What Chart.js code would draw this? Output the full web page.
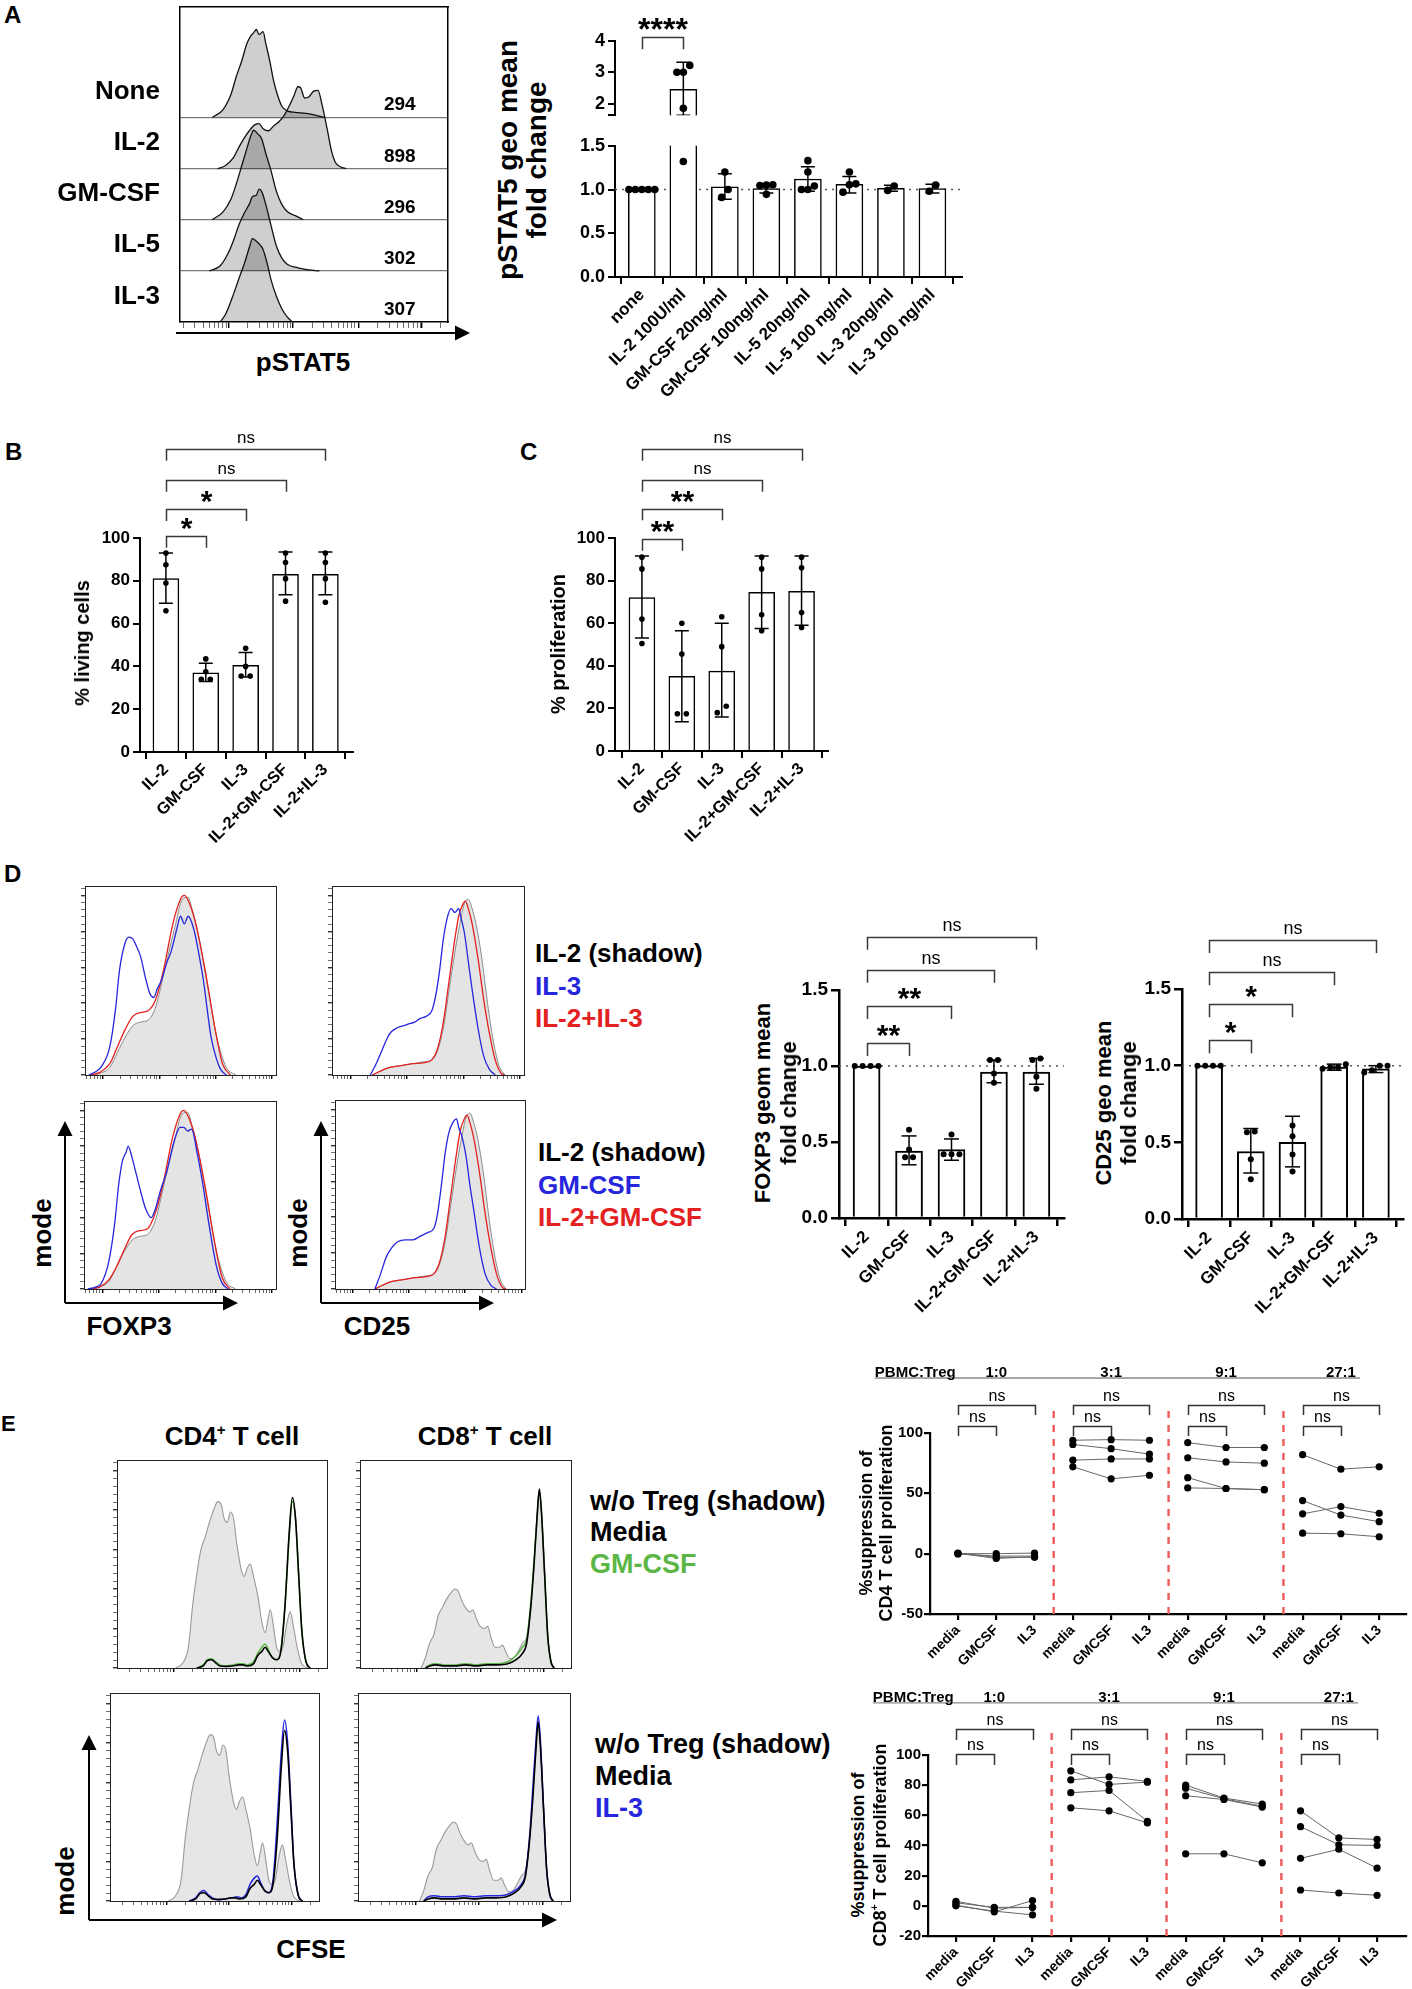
<!DOCTYPE html>
<html>
<head>
<meta charset="utf-8">
<title>pSTAT5 / Treg figure</title>
<script src="https://cdn.jsdelivr.net/npm/chart.js@4.4.1/dist/chart.umd.min.js"></script>
<style>
  body { margin: 0; background: #fff; }
  #fig { position: relative; width: 1412px; height: 1989px; overflow: hidden; background: #fff;
         font-family: "Liberation Sans", Arial, Helvetica, sans-serif; }
  #fig canvas { position: absolute; }
  .t { position: absolute; white-space: nowrap; line-height: 1; }
  .t sup { font-size: 58%; vertical-align: top; position: relative; top: -0.05em; }
  #fig svg { position: absolute; left: 0; top: 0; }
</style>
</head>
<body>
<div id="fig"></div>
<script>
const FONT = '"Liberation Sans", Arial, Helvetica, sans-serif';
Chart.defaults.font.family = FONT;
Chart.defaults.color = '#000';

// ---------- A left: pSTAT5 histograms  [x % of axis, height in row units] ----------
const aRows = ['IL-3', 'IL-5', 'GM-CSF', 'IL-2', 'None'];   // bottom -> top
const aMfi = [307, 302, 296, 898, 294];
const histNone = [[12,0],[16,0.15],[19,0.45],[21,0.8],[23,1.1],[25,1.45],[26.5,1.6],[27.5,1.66],[28.5,1.72],[29.5,1.62],[31,1.68],[32,1.45],[33.5,1.1],[35,0.7],[36.5,0.42],[38,0.22],[40,0.13],[43,0.1],[47,0.08],[50,0.05],[54,0]];
const histIl2 = [[14,0],[17,0.06],[20,0.22],[22,0.42],[24,0.6],[26,0.75],[28,0.86],[29.5,0.88],[31,0.78],[33,0.74],[35,0.84],[37,0.92],[39,1.05],[41,1.25],[42.5,1.42],[44,1.6],[45,1.58],[46.5,1.38],[48,1.4],[50,1.52],[51.5,1.53],[53,1.25],[55,0.75],[56.5,0.35],[58,0.12],[60,0.03],[62,0]];
const histGm = [[12,0],[16,0.15],[19,0.4],[21,0.7],[23,1.05],[25,1.4],[26.5,1.65],[27.5,1.75],[29,1.68],[30.5,1.58],[32,1.3],[34,0.95],[36,0.55],[38,0.3],[40,0.16],[43,0.08],[46,0]];
const histIl5 = [[11,0],[15,0.1],[18,0.35],[20,0.6],[22,0.9],[24,1.13],[26,1.32],[27,1.45],[28.5,1.48],[29.5,1.6],[30.5,1.55],[32,1.3],[34,0.88],[36,0.48],[38,0.25],[40,0.13],[44,0.06],[48,0.02],[52,0]];
const histIl3 = [[15,0],[17,0.15],[20,0.55],[22,0.85],[24,1.14],[26,1.48],[27,1.63],[28.5,1.58],[30,1.5],[31,1.42],[32.5,1.15],[34,0.82],[36,0.5],[38,0.26],[40,0.1],[42,0]];
const aHists = [histIl3, histIl5, histGm, histIl2, histNone];

// ---------- A right: pSTAT5 geo mean fold change ----------
const aCats = ['none', 'IL-2 100U/ml', 'GM-CSF 20ng/ml', 'GM-CSF 100ng/ml', 'IL-5 20ng/ml', 'IL-5 100 ng/ml', 'IL-3 20ng/ml', 'IL-3 100 ng/ml'];
const aMean = [1.0, 2.46, 1.03, 1.01, 1.12, 1.06, 1.015, 1.01];
const aSdLo = [1.0, 1.63, 0.89, 0.96, 0.98, 0.96, 0.98, 0.96];
const aSdHi = [1.0, 3.32, 1.18, 1.06, 1.26, 1.15, 1.05, 1.06];
const aDots = [[1, 1, 1, 1, 1], [3.22, 3.0, 3.0, 1.85, 1.32], [1.2, 1.0, 0.91], [1.055, 1.05, 1.045, 0.945],
               [1.33, 1.2, 1.04, 1.0, 1.0], [1.2, 1.065, 1.055, 0.97], [0.99, 1.04], [1.05, 0.98]];

// ---------- B / C ----------
const bcCats = ['IL-2', 'GM-CSF', 'IL-3', 'IL-2+GM-CSF', 'IL-2+IL-3'];
const bMean = [81, 37, 40.5, 83, 83];
const bSdLo = [69.5, 33, 35, 73.5, 73.5];
const bSdHi = [93, 41.5, 46.5, 93.5, 93.5];
const bDots = [[93, 87.5, 79, 66], [43.5, 37.5, 34, 34], [48.5, 40, 35.5, 35.5], [93, 88.5, 81, 70.5], [93, 88.5, 81, 70]];
const cMean = [72, 35, 37.5, 74.5, 75];
const cSdLo = [53, 13.7, 16, 57.5, 59];
const cSdHi = [91.5, 56.5, 60, 91.5, 91.5];
const cDots = [[91, 85.5, 62, 50.5], [60, 45.5, 17.5, 17.5], [63, 49, 21, 18], [91, 85.5, 64, 56.5], [91, 86, 65, 58]];

// ---------- D: histograms [x % of axis, % of mode] ----------
const foxShadow = [[3,0],[8,1],[13,4],[17,12],[21,20],[25,26],[29,28],[33,29],[37,36],[42,57],[47,78],[51,93],[54,94],[56,88],[59,76],[64,48],[69,20],[74,4],[79,0]];
const foxIl3 = [[2,0],[6,2],[9,5],[13,15],[16,35],[18,55],[21,70],[23,73],[25,72],[27,68],[29,63],[32,50],[34,43],[36,41],[38,46],[40,50],[43,60],[45,65],[48,77],[50,84],[52,80],[54,84],[57,77],[60,62],[62,50],[66,20],[69,8],[71,3],[74,0]];
const foxIl2Il3 = [[3,0],[8,1.5],[13,6],[17,15],[21,24],[25,31],[29,33],[33,34],[37,40],[41,55],[46,80],[50,93],[52,95],[55,90],[58,80],[63,55],[68,25],[72,6],[76,0]];
const foxGm = [[2,0],[6,1],[9,3],[13,15],[16,35],[18,55],[20,68],[22,73],[23,76],[25,70],[27,62],[30,50],[32,43],[35,38],[37,42],[40,53],[43,62],[46,75],[48,82],[50,86],[52,86],[54,84],[56,85],[59,72],[62,55],[65,35],[69,12],[72,3],[75,0]];
const foxIl2Gm = [[3,0],[8,1],[13,5],[17,12],[21,21],[25,29],[29,31],[33,32],[37,40],[41,55],[46,80],[50,93],[52,95],[55,90],[58,80],[63,55],[68,25],[72,6],[76,0]];
const cd25Shadow = [[21,0],[25,2],[30,4],[36,5],[42,6],[48,7],[52,8],[55,13],[58,25],[61,45],[64,65],[67,82],[69,91],[71,93],[73,88],[75,80],[78,62],[81,38],[84,18],[87,5],[90,0]];
const cd25Mix = [[21,0],[25,2],[30,4],[36,5],[42,6],[48,6.5],[52,8],[55,14],[58,28],[61,50],[64,72],[66,84],[68,90],[69.5,92],[71,88],[73,80],[76,62],[79,40],[82,22],[85,8],[88,1],[90,0]];
const cd25Il3 = [[20,0],[23,6],[26,13],[29,20],[31,23],[34,25],[37,26],[40,27],[43,28],[46,30],[49,31],[52,34],[54,42],[56,55],[58,72],[60,83],[62,88],[64,86],[66,88],[67,84],[69,75],[71,60],[73,45],[76,25],[79,10],[82,3],[85,0]];
const cd25Gm = [[21,0],[24,8],[27,17],[30,22],[33,25],[37,26],[41,26],[45,28],[49,30],[52,32],[54,40],[56,55],[58,72],[60,83],[62,88],[64,90],[65,86],[67,80],[69,70],[71,55],[73,42],[76,22],[79,8],[82,2],[85,0]];

// ---------- D: FOXP3 / CD25 fold change ----------
const foxMean = [1.0, 0.44, 0.45, 0.96, 0.96];
const foxSdLo = [1.0, 0.35, 0.38, 0.89, 0.88];
const foxSdHi = [1.0, 0.54, 0.52, 1.04, 1.05];
const foxDots = [[1, 1, 1, 1], [0.58, 0.45, 0.4, 0.4], [0.55, 0.42, 0.42, 0.42], [1.04, 1.04, 0.95, 0.89], [1.05, 1.04, 0.93, 0.85]];
const cd25Mean = [1.0, 0.44, 0.5, 0.99, 0.98];
const cd25SdLo = [1.0, 0.30, 0.34, 0.97, 0.955];
const cd25SdHi = [1.0, 0.59, 0.67, 1.01, 1.0];
const cd25Dots = [[1, 1, 1, 1], [0.565, 0.57, 0.39, 0.26], [0.61, 0.54, 0.42, 0.31], [1.01, 0.99, 0.99, 0.98], [1.0, 1.0, 0.97, 0.955]];

// ---------- E: CFSE histograms ----------
const cd4Shadow = [[28,0],[31,2],[34,10],[36,30],[38,45],[40,57],[42,63],[44,70],[46,76],[48,80],[49.5,79],[51,72],[52.5,70],[54,75],[55.5,72],[57,60],[59,48],[60.5,44],[62,48],[63.5,50],[65,44],[67,35],[69,22],[70.5,17],[72,24],[73,28],[74.5,20],[76,10],[77.5,8],[79,10],[81,22],[82.5,27],[84,20],[86,9],[88,2],[91,0]];
const cd4Media = [[38,0],[41,1],[43,3.5],[45,4],[47,2.5],[49,1],[52,0.8],[55,1],[58,1.5],[60,1.5],[62,1],[65,2],[67,6],[69,8],[70.5,10],[72,8],[74,5],[76,4],[78,8],[80,30],[82,65],[83.5,82],[85,72],[86.5,45],[88,18],[90,3],[92,0]];
const cd4Gm = [[38,0],[41,1.5],[43,4],[45,4.5],[47,3],[49,1.5],[52,1],[55,1.5],[58,2],[60,2],[62,1.5],[65,3],[67,7],[69,10],[70.5,11.5],[72,9],[74,5],[76,4],[78,8],[80,30],[82,63],[83.5,80],[85,72],[86.5,45],[88,18],[90,3],[92,0]];
const cd4Il3 = [[38,0],[41,1.5],[43,4],[45,5],[47,3],[49,1.5],[52,0.5],[55,1],[58,1.5],[61,2],[63,1.5],[65,3],[67,8],[69,11],[70.5,12],[72,9],[74,5],[76,4],[78,10],[80,38],[82,72],[83.5,87],[85,76],[86.5,48],[88,18],[90,3],[92,0]];
const cd8Shadow = [[29,0],[31,5],[33,12],[35,16],[37,25],[39,29],[41,33],[43,36],[45,38],[46.5,37],[48,33],[50,29],[52,27],[53.5,28],[55,24],[57,20],[59,19],[60.5,20],[62,15],[64,10],[66,10],[67.5,11],[69,8],[71,4.5],[73,5],[75,8],[77,12],[79,15],[81,30],[82.5,50],[84,74],[85,85],[86,75],[87.5,45],[89,15],[90.5,3],[92,0]];
const cd8Media = [[31,0],[33,1],[36,1.5],[40,1],[45,1],[50,1.5],[55,1],[60,1.5],[65,1.5],[70,2],[74,4],[77,7],[79,12],[81,30],[82.5,50],[84,74],[85,86],[86,75],[87.5,45],[89,15],[90.5,3],[92,0]];
const cd8Gm = [[31,0],[33,1.5],[36,2],[40,1.5],[45,1.5],[50,2],[55,1.5],[60,2],[65,2],[70,3],[74,6],[77,10],[79,14],[81,32],[82.5,52],[84,74],[85,85],[86,75],[87.5,45],[89,15],[90.5,3],[92,0]];
const cd8Il3 = [[31,0],[33,2],[36,2.5],[40,2],[45,2],[50,2.5],[55,2],[60,2.5],[65,2.5],[70,3],[74,5],[77,8],[79,13],[81,32],[82.5,55],[84,78],[85,89],[86,78],[87.5,45],[89,15],[90.5,3],[92,0]];

// ---------- E: % suppression, [group][donor] ----------
const eGroups = ['1:0', '3:1', '9:1', '27:1'];
const eCats = ['media', 'GMCSF', 'IL3'];
const cd4SupMedia = [[0, 0, 0.5, 0], [94, 90.5, 77.5, 72], [92, 79.5, 63, 54.5], [82, 44, 33, 17]];
const cd4SupGm = [[0, -2, -4, -3], [94.5, 87, 78.5, 62], [88, 76, 54, 54], [70, 32, 39, 16.5]];
const cd4SupIl3 = [[0.5, -2, -2.5, -3], [94, 82.5, 78.5, 65], [88, 75, 53, 53], [72, 26.5, 33.5, 14]];
const cd8SupMedia = [[3, 0.5, 0, 2], [89.5, 83.5, 75, 65], [80, 78, 73, 34.5], [63, 52.5, 31.5, 10.5]];
const cd8SupGm = [[-1.5, -4, -3.5, -1], [80.5, 85.5, 76.5, 63], [71.5, 71, 70.5, 34.5], [45, 40.5, 37.5, 8.5]];
const cd8SupIl3 = [[-1, 3.5, -6, -1], [82, 82.5, 56, 55], [67.5, 66, 65.5, 28.5], [44, 40, 25, 7]];

// ====================================================================
const fig = document.getElementById('fig');
const RED = '#e3211f', BLUE = '#2626dc', GREEN = '#5cb646';

function canvasAt(g) {
  const c = document.createElement('canvas');
  const w = g.R - g.L + g.l + g.r, h = g.B - g.T + g.t + g.b;
  Object.assign(c.style, {left: (g.L - g.l) + 'px', top: (g.T - g.t) + 'px', width: w + 'px', height: h + 'px'});
  c.width = w; c.height = h;
  fig.appendChild(c);
  return c;
}

function txt(s, x, y, size, o = {}) {
  const d = document.createElement('div');
  d.className = 't';
  d.innerHTML = s;
  const ax = o.align === 'left' ? '0%' : o.align === 'right' ? '-100%' : '-50%';
  Object.assign(d.style, {
    left: x + 'px', top: y + 'px', fontSize: size + 'px', color: o.color || '#000',
    fontWeight: o.weight || 'bold',
    transform: 'translate(' + ax + ',-50%)' + (o.rot ? ' rotate(' + o.rot + 'deg)' : '')
  });
  fig.appendChild(d);
}

// spread overlapping dots sideways (beeswarm-ish)
function spread(vals, tol, step) {
  const idx = vals.map((v, i) => i).sort((a, b) => vals[a] - vals[b]);
  const off = vals.map(() => 0);
  let grp = [idx[0]];
  const flush = () => grp.forEach((k, j) => { off[k] = (j - (grp.length - 1) / 2) * step; });
  for (let j = 1; j < idx.length; j++) {
    if (vals[idx[j]] - vals[idx[j - 1]] < tol) grp.push(idx[j]);
    else { flush(); grp = [idx[j]]; }
  }
  flush();
  return off;
}

function logTicks(starts, w) {
  const t = [];
  starts.forEach(s => {
    for (let k = 1; k < 10; k++) {
      const v = s + w * Math.log10(k);
      if (v > 0.5 && v < 99.5) t.push({value: v, major: k === 1});
    }
  });
  return t;
}
function modeTicks(step, every, max) {
  const t = [];
  for (let i = 0; i * step <= max; i++) t.push({value: i * step, major: i % every === 0});
  return t;
}

// brackets, free text and rules in data coordinates
function annot(spec) {
  return {
    id: 'annot',
    afterDraw(chart) {
      const {ctx} = chart, xs = chart.scales.x, ys = chart.scales.y;
      const px = v => xs.getPixelForValue(v), py = v => ys.getPixelForValue(v);
      ctx.save();
      (spec.lines || []).forEach(l => {
        ctx.strokeStyle = l.color; ctx.lineWidth = l.width;
        ctx.beginPath(); ctx.moveTo(px(l.x1), py(l.y)); ctx.lineTo(px(l.x2), py(l.y)); ctx.stroke();
      });
      (spec.brackets || []).forEach(([a, b, lv, leg, label]) => {
        const xa = Math.round(px(a)) + 0.5, xb = Math.round(px(b)) + 0.5;
        const yl = Math.round(py(lv)) + 0.5, yd = py(lv - leg);
        ctx.strokeStyle = spec.bracketColor || '#3a3a3a'; ctx.lineWidth = spec.bracketWidth || 1.5;
        ctx.beginPath(); ctx.moveTo(xa, yd); ctx.lineTo(xa, yl); ctx.lineTo(xb, yl); ctx.lineTo(xb, yd); ctx.stroke();
        ctx.font = label.includes('*') ? spec.starFont : spec.nsFont;
        ctx.fillStyle = '#000'; ctx.textAlign = 'center'; ctx.textBaseline = 'alphabetic';
        const m = ctx.measureText(label);
        ctx.fillText(label, (xa + xb) / 2, yl - (spec.gap || 7) - m.actualBoundingBoxDescent);
      });
      (spec.texts || []).forEach(t => {
        ctx.font = t.font; ctx.fillStyle = t.color || '#000';
        ctx.textAlign = t.align || 'center'; ctx.textBaseline = 'middle';
        ctx.fillText(t.text, px(t.x), py(t.y));
      });
      ctx.restore();
    }
  };
}

const baseOpts = {responsive: false, devicePixelRatio: 1, animation: false, events: [],
                  plugins: {legend: {display: false}, tooltip: {enabled: false}}};

function barChart(g, o) {
  const ppx = (g.R - g.L) / (o.xMax - o.xMin);
  const ppy = (g.B - g.T) / (o.yMax - o.yMin);
  const bars = o.mean.map((v, i) => ({x: i, y: v}));
  const errs = [];
  o.lo.forEach((lo, i) => {
    if (o.hi[i] - lo > 1e-6) errs.push({x: i, y: lo}, {x: i, y: o.hi[i]}, {x: i, y: null});
  });
  const dots = [];
  o.dots.forEach((vals, i) => {
    const off = spread(vals, (2 * o.dotR + 1) / ppy, o.stepPx / ppx);
    vals.forEach((v, k) => dots.push({x: i + off[k], y: v}));
  });
  const datasets = [
    {type: 'line', data: dots, showLine: false, pointRadius: o.dotR, pointBackgroundColor: '#000', pointBorderWidth: 0, order: 1},
    {type: 'line', data: errs, borderColor: '#000', borderWidth: 1.5, pointStyle: 'line', pointRadius: o.capR,
     pointBorderColor: '#000', pointBorderWidth: 1.5, order: 2},
    {type: 'bar', data: bars, backgroundColor: '#fff', borderColor: '#000', borderWidth: o.barBorder, barThickness: o.barW, order: 3}
  ];
  if (o.ref !== undefined) {
    datasets.push({type: 'line', data: [{x: o.xMin, y: o.ref}, {x: o.xMax, y: o.ref}], borderColor: '#555',
                   borderWidth: 1.5, borderDash: [2, 5], pointRadius: 0, order: 4});
  }
  const axisGrid = {display: true, drawOnChartArea: false, drawTicks: true, tickLength: o.tickLen, color: '#000', lineWidth: o.axisW};
  return new Chart(canvasAt(g), {
    type: 'bar',
    data: {datasets},
    options: Object.assign({}, baseOpts, {
      layout: {padding: {left: 0, top: g.t, right: g.r, bottom: o.hideX ? g.b : 0}},
      scales: {
        x: {type: 'linear', display: !o.hideX, min: o.xMin, max: o.xMax, offset: false,
            afterBuildTicks: s => { s.ticks = o.cats.map((c, i) => ({value: i})); },
            afterFit: s => { s.height = g.b; },
            border: {display: true, color: '#000', width: o.axisW},
            grid: axisGrid,
            ticks: {autoSkip: false, minRotation: 45, maxRotation: 45, padding: 1,
                    font: {size: o.xFont, weight: 'bold'}, color: '#000', callback: v => o.cats[v]}},
        y: {type: 'linear', min: o.yMin, max: o.yMax,
            afterBuildTicks: s => { s.ticks = o.yTicks.map(v => ({value: v})); },
            afterFit: s => { s.width = g.l; },
            border: {display: true, color: '#000', width: o.axisW},
            grid: axisGrid,
            ticks: {autoSkip: false, padding: 3, font: {size: o.yFont, weight: 'bold'}, color: '#000', callback: o.yFmt}}
      }
    }),
    plugins: o.annot ? [annot(o.annot)] : []
  });
}

function histChart(g, o) {
  const datasets = o.curves.map(c => ({
    type: 'line',
    data: c.pts.map(([x, h]) => ({x, y: (c.base || 0) + h})),
    borderColor: c.color, borderWidth: c.width || 1,
    backgroundColor: c.fill || 'rgba(0,0,0,0)',
    fill: c.fill ? {value: c.base || 0} : false,
    pointRadius: 0, cubicInterpolationMode: 'monotone'
  }));
  const frame = {display: true, color: o.frameColor || '#000', width: o.frameW || 1};
  return new Chart(canvasAt(g), {
    type: 'line',
    data: {datasets},
    options: Object.assign({}, baseOpts, {
      layout: {padding: {left: 0, top: g.t, right: g.r, bottom: 0}},
      scales: {
        x: {type: 'linear', min: 0, max: 100,
            afterBuildTicks: s => { s.ticks = o.xTicks.map(t => Object.assign({}, t)); },
            afterFit: s => { s.height = g.b; },
            border: frame,
            grid: {display: true, drawOnChartArea: false, drawTicks: true, tickLength: o.xTickLen || 4,
                   color: c => (c.tick && c.tick.major ? '#000' : '#444'), lineWidth: c => (c.tick && c.tick.major ? 1.4 : 0.8)},
            ticks: {display: false}},
        y: {type: 'linear', min: 0, max: o.yMax,
            afterBuildTicks: s => { s.ticks = o.yTicks.map(t => Object.assign({}, t)); },
            afterFit: s => { s.width = g.l; },
            border: frame, grid: o.yGrid, ticks: {display: false}},
        x2: {type: 'linear', position: 'top', min: 0, max: 100, afterFit: s => { s.height = 0; },
             border: frame, grid: {display: false}, ticks: {display: false}},
        y2: {type: 'linear', position: 'right', min: 0, max: 1, afterFit: s => { s.width = 0; },
             border: frame, grid: {display: false}, ticks: {display: false}}
      }
    }),
    plugins: o.annot ? [annot(o.annot)] : []
  });
}

function pairedChart(g, o) {
  const datasets = [];
  o.groups.forEach((grp, gi) => {
    o.media[gi].forEach((_, d) => {
      datasets.push({type: 'line',
        data: [o.media[gi][d], o.gm[gi][d], o.il3[gi][d]].map((v, k) => ({x: gi * 3 + k, y: v})),
        borderColor: '#666', borderWidth: 1, pointRadius: 3.6, pointBackgroundColor: '#000', pointBorderWidth: 0, order: 1});
    });
    if (gi > 0) {
      datasets.push({type: 'line', data: [{x: gi * 3 - 0.5, y: o.yMin}, {x: gi * 3 - 0.5, y: o.sepTop}],
        borderColor: '#ef5b5b', borderWidth: 2.4, borderDash: [7, 7], pointRadius: 0, clip: false, order: 5});
    }
  });
  const cats = o.groups.flatMap(() => eCats);
  const axisGrid = {display: true, drawOnChartArea: false, drawTicks: true, tickLength: 6, color: '#000', lineWidth: 2.2};
  const a = o.annot;
  return new Chart(canvasAt(g), {
    type: 'line',
    data: {datasets},
    options: Object.assign({}, baseOpts, {
      layout: {padding: {left: 0, top: g.t, right: g.r, bottom: 0}},
      scales: {
        x: {type: 'linear', min: o.xMin, max: o.xMax,
            afterBuildTicks: s => { s.ticks = cats.map((c, i) => ({value: i})); },
            afterFit: s => { s.height = g.b; },
            border: {display: true, color: '#000', width: 2.2}, grid: axisGrid,
            ticks: {autoSkip: false, minRotation: 45, maxRotation: 45, padding: 2,
                    font: {size: 14, weight: 'bold'}, color: '#000', callback: v => cats[v]}},
        y: {type: 'linear', min: o.yMin, max: o.yMax,
            afterBuildTicks: s => { s.ticks = o.yTicks.map(v => ({value: v})); },
            afterFit: s => { s.width = g.l; },
            border: {display: true, color: '#000', width: 2.2}, grid: axisGrid,
            ticks: {autoSkip: false, padding: 1, font: {size: 15, weight: 'bold'}, color: '#000'}}
      }
    }),
    plugins: [annot(a)]
  });
}

// ====================== Panel A ======================
const aHistGeom = {L: 180, T: 7, R: 448, B: 322, l: 135, t: 5, r: 6, b: 12};
histChart(aHistGeom, {
  curves: aHists.map((h, i) => ({pts: h, base: i, color: '#111', width: 1.3, fill: 'rgba(0,0,0,0.19)'})),
  yMax: 6.16,
  xTicks: logTicks([-6, 18, 42, 66.5, 90], 24.3), xTickLen: 6,
  yTicks: [1, 2, 3, 4].map(v => ({value: v})),
  yGrid: {display: true, drawOnChartArea: true, drawTicks: false, color: '#777', lineWidth: 1.2},
  frameW: 1.5,
  annot: {texts: aRows.map((r, i) => ({text: r, x: -7.5, y: i + 0.5, align: 'right', font: 'bold 26px ' + FONT}))
    .concat(aMfi.map((m, i) => ({text: String(m), x: 82, y: i + 0.24, font: 'bold 19px ' + FONT})))}
});

const aBar = {cats: aCats, mean: aMean, lo: aSdLo, hi: aSdHi, dots: aDots, xMin: -0.646, xMax: 7.7,
              barW: 27, barBorder: 1.5, capR: 7, dotR: 3.8, stepPx: 6.5, axisW: 2, tickLen: 7, xFont: 17, yFont: 18};
barChart({L: 615, T: 41, R: 964, B: 123, l: 60, t: 41, r: 6, b: 6}, Object.assign({}, aBar, {
  yMin: 1.63, yMax: 4, yTicks: [1.63, 2, 3, 4], yFmt: v => (v < 1.9 ? '' : String(v)), hideX: true,
  annot: {brackets: [[0, 1, 4.115, 0.375, '****']], starFont: 'bold 32px ' + FONT, nsFont: '17px ' + FONT, gap: 8}
}));
barChart({L: 615, T: 142, R: 964, B: 277, l: 60, t: 10, r: 6, b: 132}, Object.assign({}, aBar, {
  yMin: 0, yMax: 1.5, yTicks: [0, 0.5, 1, 1.5], yFmt: v => v.toFixed(1), ref: 1
}));

// ====================== Panels B, C ======================
const bcBase = {cats: bcCats, barW: 26, barBorder: 1.5, capR: 7, dotR: 2.8, stepPx: 9, axisW: 2, tickLen: 7,
                xFont: 16.5, yFont: 17, yMin: 0, yMax: 100, yTicks: [0, 20, 40, 60, 80, 100], yFmt: v => String(v)};
const bcStar = 'bold 30px ' + FONT, bcNs = '17px ' + FONT;
barChart({L: 140, T: 538, R: 353, B: 752, l: 50, t: 110, r: 8, b: 100}, Object.assign({}, bcBase, {
  mean: bMean, lo: bSdLo, hi: bSdHi, dots: bDots, xMin: -0.65, xMax: 4.68,
  annot: {brackets: [[0, 1, 100.9, 5.5, '*'], [0, 2, 113.5, 5.5, '*'], [0, 3, 127.1, 5.5, 'ns'], [0, 4, 141.6, 5.5, 'ns']],
          starFont: bcStar, nsFont: bcNs, gap: 7}
}));
barChart({L: 615, T: 538, R: 828, B: 751, l: 50, t: 110, r: 8, b: 100}, Object.assign({}, bcBase, {
  mean: cMean, lo: cSdLo, hi: cSdHi, dots: cDots, xMin: -0.675, xMax: 4.65,
  annot: {brackets: [[0, 1, 99.5, 5.5, '**'], [0, 2, 113.8, 5.5, '**'], [0, 3, 127.2, 5.5, 'ns'], [0, 4, 141.8, 5.5, 'ns']],
          starFont: bcStar, nsFont: bcNs, gap: 7}
}));

// ====================== Panel D ======================
const dX = logTicks([-20, 9.5, 39, 68.5, 98], 29.5);
const dY = modeTicks(3.8, 5, 100);
const dYGrid = {display: true, drawOnChartArea: false, drawTicks: true, tickLength: 4, color: '#333',
                lineWidth: c => (c.tick && c.tick.major ? 1.4 : 0.7)};
const dHist = (g, shadow, mix, single) => histChart(Object.assign({l: 8, t: 2, r: 2, b: 8}, g), {
  curves: [{pts: single, color: BLUE, width: 1.3}, {pts: mix, color: RED, width: 1.3},
           {pts: shadow, color: '#8a8a8a', width: 1, fill: '#e4e4e4'}],
  yMax: 100, xTicks: dX, yTicks: dY, yGrid: dYGrid, frameColor: '#222', frameW: 1
});
dHist({L: 85, T: 886, R: 276, B: 1075}, foxShadow, foxIl2Il3, foxIl3);
dHist({L: 332, T: 886, R: 524, B: 1075}, cd25Shadow, cd25Mix, cd25Il3);
dHist({L: 84, T: 1101, R: 276, B: 1289}, foxShadow, foxIl2Gm, foxGm);
dHist({L: 335, T: 1100, R: 525, B: 1289}, cd25Shadow, cd25Mix, cd25Gm);

const dBase = {cats: bcCats, barW: 27, barBorder: 2, capR: 7.5, dotR: 3, stepPx: 8, axisW: 2.5, tickLen: 8,
               xFont: 17, yFont: 19, yMin: 0, yMax: 1.5, yTicks: [0, 0.5, 1, 1.5], yFmt: v => v.toFixed(1),
               xMin: -0.65, xMax: 4.65, ref: 1};
barChart({L: 839, T: 990, R: 1067, B: 1218, l: 48, t: 85, r: 6, b: 105}, Object.assign({}, dBase, {
  mean: foxMean, lo: foxSdLo, hi: foxSdHi, dots: foxDots,
  annot: {brackets: [[0, 1, 1.151, 0.085, '**'], [0, 2, 1.395, 0.085, '**'], [0, 3, 1.632, 0.085, 'ns'], [0, 4, 1.849, 0.085, 'ns']],
          starFont: bcStar, nsFont: '18px ' + FONT, gap: 7}
}));
barChart({L: 1182, T: 989, R: 1410, B: 1219, l: 48, t: 85, r: 2, b: 105}, Object.assign({}, dBase, {
  mean: cd25Mean, lo: cd25SdLo, hi: cd25SdHi, dots: cd25Dots,
  annot: {brackets: [[0, 1, 1.166, 0.085, '*'], [0, 2, 1.40, 0.085, '*'], [0, 3, 1.61, 0.085, 'ns'], [0, 4, 1.82, 0.085, 'ns']],
          starFont: bcStar, nsFont: '18px ' + FONT, gap: 7}
}));

// ====================== Panel E ======================
const eX = logTicks([-3, 27, 57, 87], 30);
const eHist = (g, shadow, media, treat, col) => histChart(Object.assign({l: 8, t: 2, r: 2, b: 8}, g), {
  curves: [{pts: media, color: '#000', width: 1.6}, {pts: treat, color: col, width: 1.5},
           {pts: shadow, color: '#9a9a9a', width: 1.1, fill: '#e6e6e6'}],
  yMax: 100, xTicks: eX, yTicks: dY, yGrid: dYGrid, frameColor: '#222', frameW: 1
});
eHist({L: 117, T: 1460, R: 327, B: 1668}, cd4Shadow, cd4Media, cd4Gm, GREEN);
eHist({L: 360, T: 1460, R: 571, B: 1668}, cd8Shadow, cd8Media, cd8Gm, GREEN);
eHist({L: 110, T: 1693, R: 319, B: 1901}, cd4Shadow, cd4Media, cd4Il3, BLUE);
eHist({L: 358, T: 1693, R: 570, B: 1901}, cd8Shadow, cd8Media, cd8Il3, BLUE);

function eAnnot(outer, inner, leg, headY, ruleY) {
  const br = [];
  eGroups.forEach((grp, gi) => {
    br.push([gi * 3, gi * 3 + 2, outer, leg, 'ns'], [gi * 3, gi * 3 + 1, inner, leg, 'ns']);
  });
  return {
    brackets: br, nsFont: '16px ' + FONT, starFont: 'bold 26px ' + FONT, gap: 5, bracketColor: '#333', bracketWidth: 1.5,
    texts: [{text: 'PBMC:Treg', x: -2.17, y: headY, align: 'left', font: 'bold 15px ' + FONT}]
      .concat(eGroups.map((grp, gi) => ({text: grp, x: gi * 3 + 1, y: headY, font: 'bold 15px ' + FONT}))),
    lines: [{x1: -2.17, x2: 10.5, y: ruleY, color: '#8a8a8a', width: 1.3}]
  };
}
pairedChart({L: 930, T: 1433, R: 1406, B: 1614, l: 60, t: 70, r: 4, b: 60}, {
  groups: eGroups, media: cd4SupMedia, gm: cd4SupGm, il3: cd4SupIl3,
  xMin: -0.73, xMax: 11.7, yMin: -50, yMax: 100, yTicks: [-50, 0, 50, 100], sepTop: 121.5,
  annot: eAnnot(123.2, 105.8, 8.3, 149.7, 145.6)
});
pairedChart({L: 928, T: 1755, R: 1406, B: 1936, l: 60, t: 68, r: 4, b: 53}, {
  groups: eGroups, media: cd8SupMedia, gm: cd8SupGm, il3: cd8SupIl3,
  xMin: -0.73, xMax: 11.755, yMin: -20, yMax: 100, yTicks: [-20, 0, 20, 40, 60, 80, 100], sepTop: 118.6,
  annot: eAnnot(117.3, 100.7, 7.3, 137.8, 134.5)
});

// ====================== text & arrows ======================
txt('A', 4, 15, 24, {align: 'left'});
txt('B', 5, 452, 24, {align: 'left'});
txt('C', 520, 452, 24, {align: 'left'});
txt('D', 4, 874, 24, {align: 'left'});
txt('E', 1, 1424, 22, {align: 'left'});

txt('pSTAT5', 303, 362, 26);
txt('pSTAT5 geo mean', 508, 160, 28, {rot: -90});
txt('fold change', 537, 160, 28, {rot: -90});
txt('% living cells', 82, 643, 20, {rot: -90});
txt('% proliferation', 558, 644, 20, {rot: -90});

txt('mode', 42, 1233, 26, {rot: -90});
txt('mode', 298, 1233, 26, {rot: -90});
txt('FOXP3', 129, 1326, 26);
txt('CD25', 377, 1326, 26);
txt('IL-2 (shadow)', 535, 953, 26, {align: 'left'});
txt('IL-3', 535, 986, 26, {align: 'left', color: BLUE});
txt('IL-2+IL-3', 535, 1018, 26, {align: 'left', color: RED});
txt('IL-2 (shadow)', 538, 1152, 26, {align: 'left'});
txt('GM-CSF', 538, 1185, 26, {align: 'left', color: BLUE});
txt('IL-2+GM-CSF', 538, 1217, 26, {align: 'left', color: RED});
txt('FOXP3 geom mean', 763, 1103, 22, {rot: -90});
txt('fold change', 789, 1103, 22, {rot: -90});
txt('CD25 geo mean', 1104, 1103, 22, {rot: -90});
txt('fold change', 1129, 1103, 22, {rot: -90});

txt('CD4<sup>+</sup> T cell', 232, 1436, 26);
txt('CD8<sup>+</sup> T cell', 485, 1436, 26);
txt('w/o Treg (shadow)', 590, 1501, 27, {align: 'left'});
txt('Media', 590, 1532, 27, {align: 'left'});
txt('GM-CSF', 590, 1564, 27, {align: 'left', color: GREEN});
txt('w/o Treg (shadow)', 595, 1744, 27, {align: 'left'});
txt('Media', 595, 1776, 27, {align: 'left'});
txt('IL-3', 595, 1808, 27, {align: 'left', color: BLUE});
txt('mode', 65, 1881, 26, {rot: -90});
txt('CFSE', 311, 1949, 26);
txt('%suppression of', 866, 1523, 18, {rot: -90});
txt('CD4 T cell proliferation', 886, 1523, 18, {rot: -90});
txt('%suppression of', 858, 1845, 18, {rot: -90});
txt('CD8<sup>+</sup> T cell proliferation', 880, 1845, 18, {rot: -90});

const arrows = [[176, 333, 470, 333], [65, 1303, 65, 1121], [65, 1303, 238, 1303],
                [321, 1303, 321, 1121], [321, 1303, 494, 1303], [89, 1920, 89, 1735], [89, 1920, 557, 1920]];
let svg = '<svg width="1412" height="1989" xmlns="http://www.w3.org/2000/svg">';
arrows.forEach(([x1, y1, x2, y2]) => {
  const dx = Math.sign(x2 - x1), dy = Math.sign(y2 - y1), L = 15, H = 7.5;
  const bx = x2 - dx * L, by = y2 - dy * L;
  svg += '<line x1="' + x1 + '" y1="' + y1 + '" x2="' + bx + '" y2="' + by + '" stroke="#000" stroke-width="2"/>';
  svg += '<polygon fill="#000" points="' + x2 + ',' + y2 + ' ' + (bx - dy * H) + ',' + (by - dx * H) + ' ' + (bx + dy * H) + ',' + (by + dx * H) + '"/>';
});
svg += '</svg>';
fig.insertAdjacentHTML('beforeend', svg);
</script>
</body>
</html>
